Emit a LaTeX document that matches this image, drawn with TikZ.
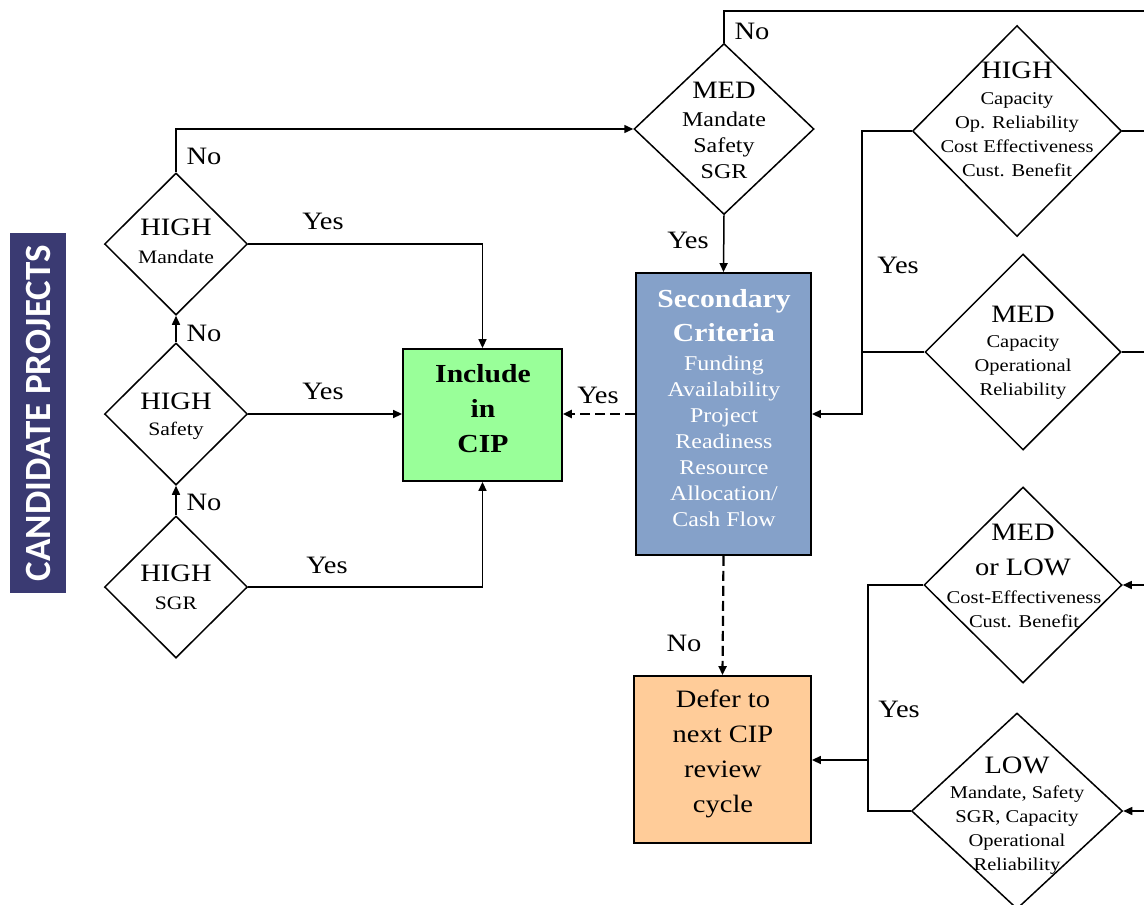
\documentclass[tikz,border=0pt]{standalone}
\usepackage{fontspec}
\setmainfont{Liberation Serif}[FakeStretch=1.14]
\newfontfamily\barfont{Carlito}
\usetikzlibrary{arrows.meta,shapes.geometric}
\definecolor{barnavy}{RGB}{58,58,114}
\definecolor{incgreen}{RGB}{153,255,153}
\definecolor{secblue}{RGB}{133,161,201}
\definecolor{deforange}{RGB}{255,204,153}

\begin{document}
\begin{tikzpicture}[x=1pt,y=-1pt,
  line width=1.5pt,
  dia/.style={draw, shape=diamond, inner sep=0pt},
  box/.style={draw, inner sep=0pt, line width=1.8pt},
  txt/.style={inner sep=0pt, align=center},
  head/.style={txt, font=\fontsize{25}{35}\selectfont},
  leftsub/.style={txt, font=\fontsize{19}{22}\selectfont},
  medsub/.style={txt, font=\fontsize{21}{26}\selectfont},
  rightsub/.style={txt, font=\fontsize{18}{24}\selectfont},
  lbl/.style={inner sep=0pt, font=\fontsize{25}{30}\selectfont},
  arr/.style={-{Triangle[length=9pt,width=8pt]}},
  dsh/.style={line width=2.2pt, dash pattern=on 10pt off 5pt}
]
\fill[white] (0,0) rectangle (1144,905);
\useasboundingbox (0,0) rectangle (1144,905);

% side banner
\node[fill=barnavy, inner sep=0pt, minimum width=56, minimum height=360] (bar) at (38,413) {};
\node[rotate=90, text=white, inner sep=0pt, font=\barfont\bfseries\fontsize{37}{40}\selectfont] (barT) at (bar) {CANDIDATE PROJECTS};

% left column of HIGH checks
\node[dia, minimum width=143, minimum height=142] (hm) at (176,244) {};
\node[dia, minimum width=143, minimum height=142] (hs) at (176,414) {};
\node[dia, minimum width=143, minimum height=142] (hg) at (176,587) {};
\node[head] (hmA) at (176,227) {HIGH};
\node[leftsub] (hmB) at (176,257) {Mandate};
\node[head] (hsA) at (176,401) {HIGH};
\node[leftsub] (hsB) at (176,431) {Safety};
\node[head] (hgA) at (176,573) {HIGH};
\node[leftsub] (hgB) at (176,603) {SGR};

% MED check at the top
\node[dia, minimum width=180, minimum height=171] (mt) at (724,129) {};
\node[head] (mtA) at (724,90) {MED};
\node[medsub] (mtB) at (724,145) {Mandate\\Safety\\SGR};

% right column of checks
\node[dia, minimum width=209, minimum height=211] (hr) at (1017,131) {};
\node[head] (hrA) at (1017,70) {HIGH};
\node[rightsub] (hrB) at (1017,135) {Capacity\\Op. Reliability\\Cost Effectiveness\\Cust. Benefit};

\node[dia, minimum width=196, minimum height=196] (mr) at (1023,352) {};
\node[head] (mrA) at (1023,314) {MED};
\node[rightsub] (mrB) at (1023,367) {Capacity\\Operational\\Reliability};

\node[dia, minimum width=198, minimum height=196] (ml) at (1023,585) {};
\node[head] (mlA) at (1023,550) {MED\\or LOW};
\node[rightsub] (mlB) at (1024,609) {Cost-Effectiveness\\Cust. Benefit};

\node[dia, minimum width=211, minimum height=196] (lw) at (1017,811) {};
\node[head] (lwA) at (1017,765) {LOW};
\node[rightsub] (lwB) at (1017,830) {Mandate, Safety\\SGR, Capacity\\Operational\\Reliability};

% outcome boxes
\node[box, fill=incgreen, minimum width=159, minimum height=132] (inc) at (482.5,415) {};
\node[txt, font=\bfseries\fontsize{26}{35}\selectfont] (incT) at (483,409) {Include\\in\\CIP};

\node[box, fill=secblue, minimum width=175, minimum height=282] (sec) at (723.5,414) {};
\node[txt, text=white, font=\bfseries\fontsize{26}{34}\selectfont] (secA) at (724,316) {Secondary\\Criteria};
\node[txt, text=white, font=\fontsize{21}{26}\selectfont] (secB) at (724,441) {Funding\\Availability\\Project\\Readiness\\Resource\\Allocation/\\Cash Flow};

\node[box, fill=deforange, minimum width=177, minimum height=167] (def) at (722.5,759.5) {};
\node[txt, font=\fontsize{25}{35}\selectfont] (defT) at (723,754) {Defer to\\next CIP\\review\\cycle};

% connectors on the left
\draw[arr] (hg.north) -- (hs.south);
\draw[arr] (hs.north) -- (hm.south);
\draw[arr] (hm.north) |- (mt.west);
\draw[arr] (hm.east) -| (inc.north);
\draw[arr] (hs.east) -- (hs.east -| inc.west);
\draw[arr] (hg.east) -| (inc.south);

% connectors around the secondary criteria
\draw[arr] (mt.south) -- (sec.north);
\draw[arr, dsh] (sec.west) -- (sec.west -| inc.east);
\draw[arr, dsh] (sec.south) -- (def.north);

% lines leaving to the right
\coordinate (eTop) at (1144,11);
\coordinate (eHr) at (1144,131);
\coordinate (eMr) at (1144,352);
\coordinate (eMl) at (1144,585);
\coordinate (eLw) at (1144,811);
\draw (mt.north) |- (eTop);
\draw (hr.east) -- (eHr);
\draw (mr.east) -- (eMr);
\draw[arr] (eMl) -- (ml.east);
\draw[arr] (eLw) -- (lw.east);

% joins of the right-hand checks
\coordinate (jHi) at (862,414);
\draw[arr] (hr.west) -| (jHi) -- (sec.east);
\draw (mr.west) -- (mr.west -| jHi);
\coordinate (vLo) at (868,811);
\coordinate (jLo) at (868,760);
\draw (ml.west) -| (vLo) -- (lw.west);
\draw[arr] (jLo) -- (jLo -| def.east);

% branch labels
\node[lbl] (l1) at (752,31) {No};
\node[lbl] (l2) at (204,156) {No};
\node[lbl] (l3) at (323,221) {Yes};
\node[lbl] (l4) at (204,333) {No};
\node[lbl] (l5) at (323,391) {Yes};
\node[lbl] (l6) at (204,502) {No};
\node[lbl] (l7) at (327,565) {Yes};
\node[lbl] (l8) at (688,240) {Yes};
\node[lbl] (l9) at (598,395) {Yes};
\node[lbl] (l10) at (898,265) {Yes};
\node[lbl] (l11) at (684,643) {No};
\node[lbl] (l12) at (899,709) {Yes};
\end{tikzpicture}
\end{document}
